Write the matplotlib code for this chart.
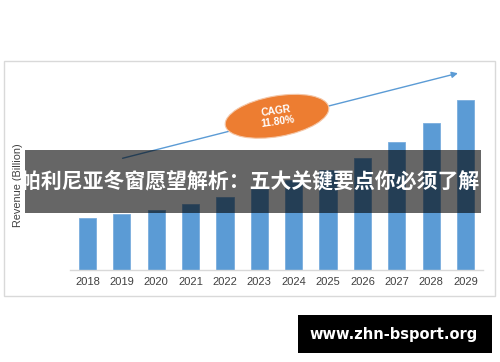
import matplotlib
matplotlib.use('Agg')
import matplotlib.pyplot as plt
from matplotlib.patches import Rectangle, Ellipse

# Data
years = ['2018', '2019', '2020', '2021', '2022', '2023',
         '2024', '2025', '2026', '2027', '2028', '2029']
revenue = [5.16, 5.56, 5.99, 6.59, 7.26, 8.07,
           8.97, 9.95, 11.21, 12.75, 14.64, 17.0]
cagr_text = 'CAGR\n11.80%'
ylabel = 'Revenue (Billion)'
title = '帕利尼亚冬窗愿望解析：五大关键要点你必须了解'
watermark = 'www.zhn-bsport.org'

# trend arrow (bar index, value)
arrow_start = (1.02, 11.15)
arrow_end = (10.78, 19.64)

W, H = 500, 362


def fx(x):
    return x / W


def fy(y):
    return 1 - y / H


fig = plt.figure(figsize=(5, 3.62), dpi=100)
fig.patch.set_facecolor('white')

ax = fig.add_axes([fx(70), fy(270), fx(483) - fx(70), (205.4) / H])
x = list(range(len(years)))
ax.bar(x, revenue, width=0.5, color='#5b9bd5', edgecolor='#7aaede', linewidth=0.6, zorder=2)
ax.set_xlim(-0.51, 11.51)
ax.set_ylim(0, 20.5)
ax.set_xticks(x)
ax.set_xticklabels(years, fontsize=8, color='#404040', family='Liberation Sans')
ax.tick_params(axis='x', length=0, pad=5)
ax.set_yticks([])
for s in ['top', 'left', 'right']:
    ax.spines[s].set_visible(False)
ax.spines['bottom'].set_color('#d9d9d9')
ax.spines['bottom'].set_linewidth(1)
ax.patch.set_alpha(0)

# trend arrow
ax.annotate('', xy=arrow_end, xytext=arrow_start,
            arrowprops=dict(arrowstyle='-|>', color='#5b9bd5', lw=1,
                            mutation_scale=9, shrinkA=0, shrinkB=0),
            annotation_clip=False, zorder=3)

# CAGR ellipse
ell = Ellipse((2.77, (H - 116.3) / 100), 1.05, 0.406, angle=10,
              transform=fig.dpi_scale_trans, facecolor='#ed7d31',
              edgecolor='#f4c7a8', linewidth=0.8, zorder=4, clip_on=False)
ax.add_patch(ell)
ax.text(fx(277), fy(116), cagr_text, transform=fig.transFigure,
        ha='center', va='center', color='white', fontsize=7.4,
        fontweight='bold', family='Liberation Sans', rotation=8,
        linespacing=1.15, zorder=5)

# y label
fig.text(fx(18), fy(185), ylabel, rotation=90, ha='center', va='center',
         fontsize=7.8, color='#404040', family='Liberation Sans')

# outer border
fig.add_artist(Rectangle((fx(4), fy(296)), fx(495) - fx(4), (296 - 61) / H,
                         transform=fig.transFigure, facecolor='none',
                         edgecolor='#d9d9d9', linewidth=1))

# title banner
fig.add_artist(Rectangle((fx(25), fy(212.7)), fx(481) - fx(25), (212.7 - 150) / H,
                         transform=fig.transFigure, facecolor='black',
                         alpha=0.6, edgecolor='none', zorder=10))
fig.text(fx(250), fy(181), title, ha='center', va='center', color='white',
         fontsize=15, fontweight='bold',
         family=['Noto Sans CJK SC', 'DejaVu Sans'], zorder=11)

# watermark box
fig.add_artist(Rectangle((fx(298), fy(353)), fx(492) - fx(298), (353 - 315) / H,
                         transform=fig.transFigure, facecolor='black',
                         edgecolor='none', zorder=10))
fig.text(fx(394), fy(334), watermark, ha='center', va='center', color='white',
         fontsize=10.5, fontweight='bold', family='DejaVu Sans', zorder=11)

fig.savefig('out.png', dpi=100)
